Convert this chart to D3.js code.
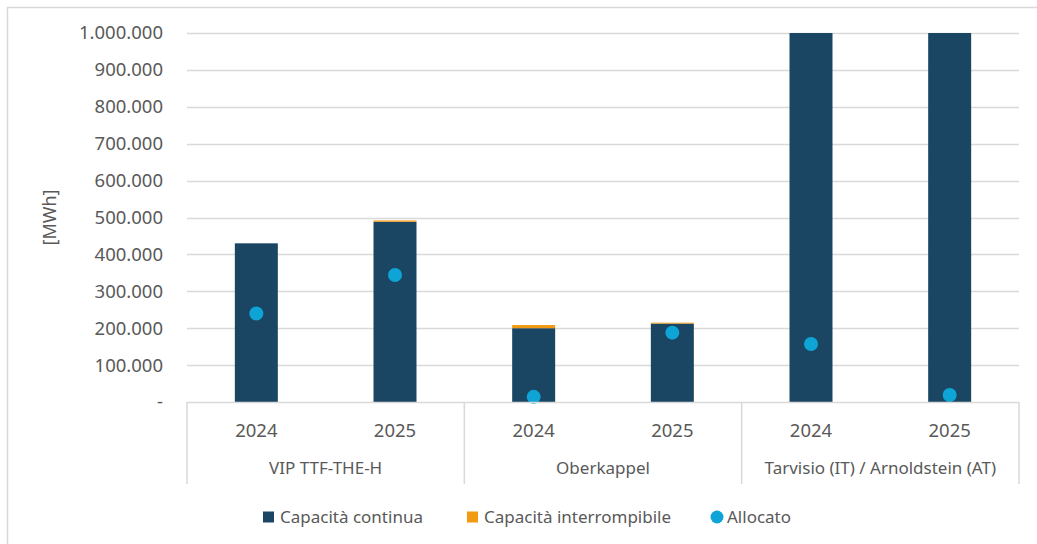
<!DOCTYPE html>
<html>
<head>
<meta charset="utf-8">
<script src="https://cdn.jsdelivr.net/npm/d3@7"></script>
<style>
  body { margin: 0; background: #fff; }
  svg text { font-family: "Noto Sans", sans-serif; fill: #595959; }
</style>
</head>
<body>
<div id="chart"></div>
<script>
// dati
const groups = ['VIP TTF-THE-H', 'Oberkappel', 'Tarvisio (IT) / Arnoldstein (AT)'];
const years = ['2024', '2025'];
const continua = [430000, 488500, 200000, 212500, 1000000, 1000000];
const interrompibile = [0, 3500, 8500, 2500, 0, 0];
const allocato = [240000, 344000, 14000, 188000, 157000, 19000];
const yTicks = [0, 100000, 200000, 300000, 400000, 500000, 600000, 700000, 800000, 900000, 1000000];

const W = 1037, H = 544;
const plot = { left: 187, right: 1019, top: 33, bottom: 402 };
const colors = { continua: '#1a4664', interrompibile: '#f29a12', allocato: '#0ea4d6', grid: '#d9d9d9' };

// categorie (gruppo + anno)
const cats = [];
groups.forEach((g, gi) => years.forEach((y, yi) => cats.push({ key: g + '|' + y, group: g, year: y, i: gi * years.length + yi })));

const svg = d3.select('#chart').append('svg').attr('width', W).attr('height', H);

// bordo esterno
svg.append('rect')
  .attr('x', 7.5).attr('y', 7.5).attr('width', W + 10).attr('height', H + 10)
  .style('fill', 'none').style('stroke', colors.grid).style('stroke-width', 1.5);

const x = d3.scaleBand().domain(cats.map(d => d.key)).range([plot.left, plot.right]).padding(0);
const y = d3.scaleLinear().domain([0, 1000000]).range([plot.bottom, plot.top]);
const barW = x.bandwidth() * 0.31;

const locale = d3.formatLocale({ decimal: ',', thousands: '.', grouping: [3], currency: ['', ''] });
const fmt = v => v === 0 ? '-' : locale.format(',.0f')(v);

// griglia
svg.append('g').selectAll('line')
  .data(yTicks.filter(v => v > 0))
  .join('line')
  .attr('x1', plot.left).attr('x2', plot.right)
  .attr('y1', d => Math.round(y(d)) + 0.5).attr('y2', d => Math.round(y(d)) + 0.5)
  .style('stroke', colors.grid).style('stroke-width', 1.5);

// etichette asse y
svg.append('g').selectAll('text')
  .data(yTicks)
  .join('text')
  .attr('x', 163).attr('y', d => y(d))
  .attr('dy', '0.35em')
  .attr('text-anchor', 'end')
  .style('font-size', '18.5px')
  .text(fmt);

svg.append('text')
  .attr('transform', `translate(56,${(plot.top + plot.bottom) / 2}) rotate(-90)`)
  .attr('text-anchor', 'middle')
  .style('font-size', '18px')
  .text('[MWh]');

// barre impilate
const stackData = cats.map(c => ({ key: c.key, continua: continua[c.i], interrompibile: interrompibile[c.i] }));
const series = d3.stack().keys(['continua', 'interrompibile'])(stackData);

svg.append('g').selectAll('g')
  .data(series)
  .join('g')
  .style('fill', s => colors[s.key])
  .selectAll('rect')
  .data(s => s)
  .join('rect')
  .attr('x', d => x(d.data.key) + (x.bandwidth() - barW) / 2)
  .attr('width', barW)
  .attr('y', d => y(d[1]))
  .attr('height', d => y(d[0]) - y(d[1]));

// punti allocato
svg.append('g').selectAll('circle')
  .data(cats)
  .join('circle')
  .attr('cx', d => x(d.key) + x.bandwidth() / 2)
  .attr('cy', d => y(allocato[d.i]))
  .attr('r', 7)
  .style('fill', colors.allocato);

// asse categorie (multi-livello)
const axisG = svg.append('g');
const lvlBottom = 484;
axisG.append('line')
  .attr('x1', plot.left).attr('x2', plot.right)
  .attr('y1', plot.bottom + 0.5).attr('y2', plot.bottom + 0.5)
  .style('stroke', colors.grid).style('stroke-width', 1.5);

const sepX = groups.map((g, gi) => x(cats[gi * years.length].key)).concat([plot.right]);
axisG.selectAll('.sep')
  .data(sepX)
  .join('line')
  .attr('class', 'sep')
  .attr('x1', d => d).attr('x2', d => d)
  .attr('y1', plot.bottom).attr('y2', lvlBottom)
  .style('stroke', colors.grid).style('stroke-width', 1.5);

axisG.selectAll('.year')
  .data(cats)
  .join('text')
  .attr('class', 'year')
  .attr('x', d => x(d.key) + x.bandwidth() / 2)
  .attr('y', 437)
  .attr('text-anchor', 'middle')
  .style('font-size', '18.5px')
  .text(d => d.year);

axisG.selectAll('.group')
  .data(groups)
  .join('text')
  .attr('class', 'group')
  .attr('x', (g, gi) => (sepX[gi] + sepX[gi + 1]) / 2)
  .attr('y', 474)
  .attr('text-anchor', 'middle')
  .style('font-size', '17px')
  .text(g => g);

// legenda
const legend = [
  { label: 'Capacità continua', color: colors.continua, shape: 'rect', x: 263 },
  { label: 'Capacità interrompibile', color: colors.interrompibile, shape: 'rect', x: 467 },
  { label: 'Allocato', color: colors.allocato, shape: 'circle', x: 711 }
];
const lg = svg.append('g').selectAll('g').data(legend).join('g')
  .attr('transform', d => `translate(${d.x},517)`);
lg.filter(d => d.shape === 'rect').append('rect')
  .attr('x', 0).attr('y', -5.5).attr('width', 11).attr('height', 11)
  .style('fill', d => d.color);
lg.filter(d => d.shape === 'circle').append('circle')
  .attr('cx', 6).attr('cy', 0).attr('r', 6.5)
  .style('fill', d => d.color);
lg.append('text')
  .attr('x', d => d.shape === 'circle' ? 16 : 17)
  .attr('dy', '0.35em')
  .style('font-size', '17px')
  .text(d => d.label);
</script>
</body>
</html>
